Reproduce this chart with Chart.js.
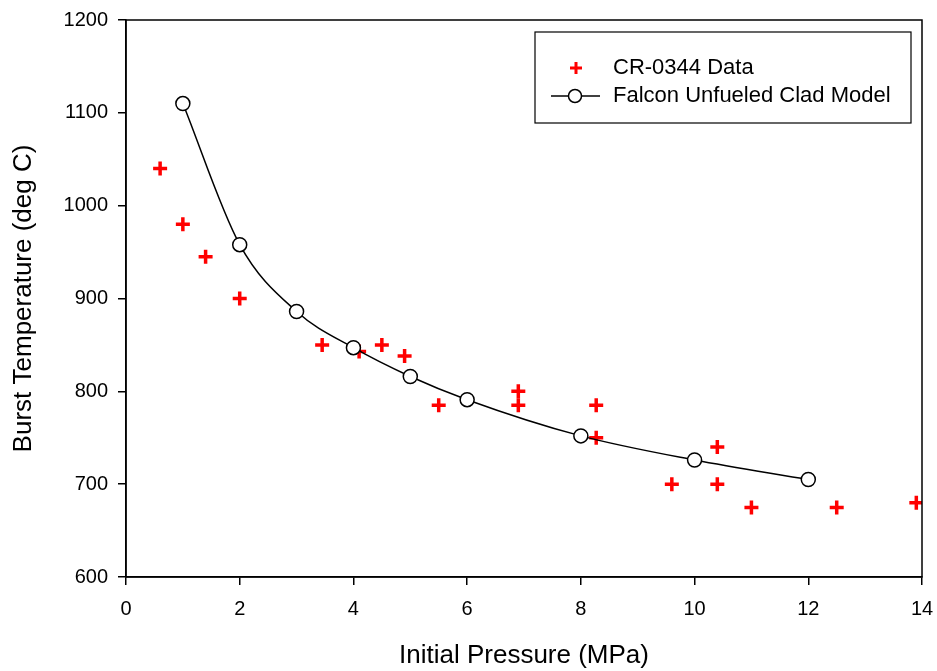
<!DOCTYPE html>
<html>
<head>
<meta charset="utf-8">
<script src="https://cdn.jsdelivr.net/npm/chart.js@4"></script>
<style>
  html, body { margin: 0; padding: 0; background: #ffffff; }
  #wrap { width: 937px; height: 671px; }
</style>
</head>
<body>
<div id="wrap"><canvas id="chart" width="937" height="671"></canvas></div>
<script>
// measured burst points (pressure MPa, temperature deg C)
const dataPressure = [0.6, 1.0, 1.4, 2.0, 3.45, 4.1, 4.5, 4.9, 5.5, 6.9, 6.9, 8.27, 8.27, 9.6, 10.4, 10.4, 11.0, 12.5, 13.9];
const dataTemp     = [1040, 980, 945, 900, 850, 843, 850, 838, 785, 800, 785, 785, 750, 700, 740, 700, 675, 675, 680];

// model curve
const modelPressure = [1, 2, 3, 4, 5, 6, 8, 10, 12];
const modelTemp     = [1110, 958, 886, 847, 816, 791, 752, 726, 705];

const xTicks = [0, 2, 4, 6, 8, 10, 12, 14];
const yTicks = [600, 700, 800, 900, 1000, 1100, 1200];

const FONT = 'Arial, "Liberation Sans", sans-serif';

function toPoints(xs, ys) {
	return xs.map((x, i) => ({x: x, y: ys[i]}));
}

// box around the plot area (top and right edges)
const frame = {
	id: 'frame',
	afterDatasetsDraw(chart) {
		const a = chart.chartArea;
		const c = chart.ctx;
		c.save();
		c.strokeStyle = '#000';
		c.lineWidth = 1.5;
		c.strokeRect(a.left, a.top, a.right - a.left, a.bottom - a.top);
		c.restore();
	}
};

// legend drawn inside the plot, upper right
const boxLegend = {
	id: 'boxLegend',
	afterDraw(chart) {
		const c = chart.ctx;
		const ds = chart.data.datasets;
		const bx = 535, by = 32, bw = 376, bh = 91;
		c.save();
		c.fillStyle = '#fff';
		c.fillRect(bx, by, bw, bh);
		c.strokeStyle = '#000';
		c.lineWidth = 1.2;
		c.strokeRect(bx, by, bw, bh);

		c.font = '22px ' + FONT;
		c.fillStyle = '#000';
		c.textBaseline = 'middle';
		c.textAlign = 'left';

		// row 1: cross
		let y = 68;
		c.strokeStyle = ds[0].borderColor;
		c.lineWidth = 3;
		c.beginPath();
		c.moveTo(570, y); c.lineTo(582, y);
		c.moveTo(576, y - 6); c.lineTo(576, y + 6);
		c.stroke();
		c.fillText(ds[0].label, 613, y);

		// row 2: line + open circle
		y = 96;
		c.strokeStyle = '#000';
		c.lineWidth = 1.5;
		c.beginPath();
		c.moveTo(551, y); c.lineTo(600, y);
		c.stroke();
		c.beginPath();
		c.arc(575, y, 6.5, 0, Math.PI * 2);
		c.fillStyle = '#fff';
		c.fill();
		c.stroke();
		c.fillStyle = '#000';
		c.fillText(ds[1].label, 613, y);
		c.restore();
	}
};

const config = {
	type: 'scatter',
	data: {
		datasets: [{
			label: 'CR-0344 Data',
			data: toPoints(dataPressure, dataTemp),
			pointStyle: 'cross',
			pointRadius: 7,
			pointBorderWidth: 3.5,
			borderColor: '#ff0000',
			backgroundColor: '#ff0000',
			showLine: false,
			order: 1
		}, {
			label: 'Falcon Unfueled Clad Model',
			data: toPoints(modelPressure, modelTemp),
			showLine: true,
			cubicInterpolationMode: 'monotone',
			borderColor: '#000',
			borderWidth: 1.5,
			pointStyle: 'circle',
			pointRadius: 7,
			pointBorderWidth: 1.5,
			pointBorderColor: '#000',
			pointBackgroundColor: '#fff',
			order: 0
		}]
	},
	options: {
		responsive: false,
		animation: false,
		layout: {padding: {top: 20, right: 15, left: 0, bottom: 0}},
		plugins: {
			legend: {display: false},
			tooltip: {enabled: false}
		},
		scales: {
			x: {
				type: 'linear',
				min: 0, max: 14,
				afterBuildTicks: (s) => { s.ticks = xTicks.map(v => ({value: v})); },
				afterFit: (s) => { s.height = 94; s.paddingLeft = 0; s.paddingRight = 0; },
				grid: {display: true, drawOnChartArea: false, drawTicks: true, tickLength: 8, color: '#000', lineWidth: 1.5},
				border: {display: true, color: '#000', width: 1.5},
				ticks: {color: '#000', font: {family: FONT, size: 20}, padding: 12, maxRotation: 0, callback: (v) => String(v)},
				title: {display: true, text: 'Initial Pressure (MPa)', color: '#000', font: {family: FONT, size: 26}, padding: {top: 0, bottom: 0}}
			},
			y: {
				type: 'linear',
				min: 600, max: 1200,
				afterBuildTicks: (s) => { s.ticks = yTicks.map(v => ({value: v})); },
				afterFit: (s) => { s.width = 126; s.paddingTop = 0; s.paddingBottom = 0; },
				grid: {display: true, drawOnChartArea: false, drawTicks: true, tickLength: 8, color: '#000', lineWidth: 1.5},
				border: {display: true, color: '#000', width: 1.5},
				ticks: {color: '#000', font: {family: FONT, size: 20}, padding: 10, callback: (v) => String(v)},
				title: {display: true, text: 'Burst Temperature (deg C)', color: '#000', font: {family: FONT, size: 26}, padding: {top: 8, bottom: 0}}
			}
		}
	},
	plugins: [frame, boxLegend]
};

let chart = new Chart(document.getElementById('chart').getContext('2d'), config);
</script>
</body>
</html>
